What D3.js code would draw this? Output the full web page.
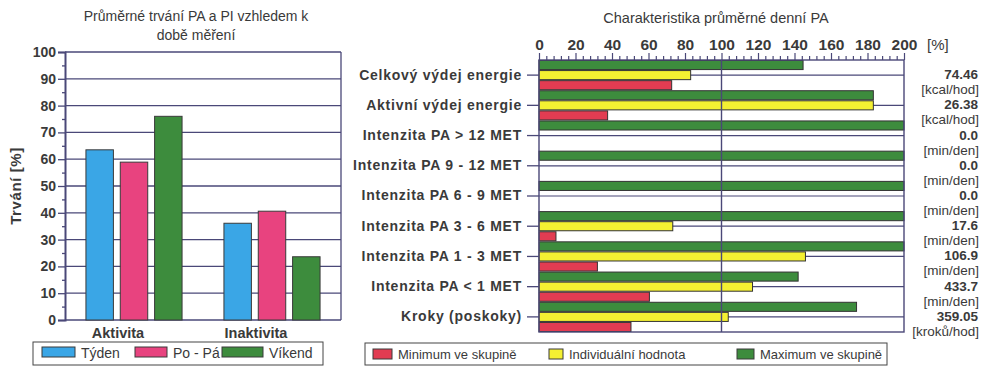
<!DOCTYPE html>
<html>
<head>
<meta charset="utf-8">
<script src="https://cdn.jsdelivr.net/npm/d3@7"></script>
<style>
  body { margin: 0; background: #fff; }
  svg { display: block; font-family: "Liberation Sans", Arial, sans-serif; }
  .tick-label { font-weight: bold; font-size: 14px; fill: #3a3a3a; }
</style>
</head>
<body>
<svg id="chart" width="990" height="367"></svg>
<script>
// left chart data
const leftCategories = ['Aktivita', 'Inaktivita'];
const leftSeries = ['Týden', 'Po - Pá', 'Víkend'];
const tyden = [63.5, 36.1];
const poPa = [58.9, 40.6];
const vikend = [76.0, 23.6];
const leftTicks = [0, 10, 20, 30, 40, 50, 60, 70, 80, 90, 100];

// right chart data
const rightCategories = [
  'Celkový výdej energie', 'Aktivní výdej energie', 'Intenzita PA > 12 MET',
  'Intenzita PA 9 - 12 MET', 'Intenzita PA 6 - 9 MET', 'Intenzita PA 3 - 6 MET',
  'Intenzita PA 1 - 3 MET', 'Intenzita PA < 1 MET', 'Kroky (poskoky)'
];
const rightSeries = ['Maximum ve skupině', 'Individuální hodnota', 'Minimum ve skupině'];
const maxValues = [144.7, 183.2, 200, 200, 200, 200, 200, 142, 174];
const indivValues = [83.1, 183.2, 0, 0, 0, 73.3, 146, 117, 103.7];
const minValues = [72.7, 37.6, 0, 0, 0, 9.3, 32, 60.5, 50.4];
const valueLabels = ['74.46', '26.38', '0.0', '0.0', '0.0', '17.6', '106.9', '433.7', '359.05'];
const unitLabels = ['[kcal/hod]', '[kcal/hod]', '[min/den]', '[min/den]', '[min/den]',
  '[min/den]', '[min/den]', '[min/den]', '[kroků/hod]'];
const rightTicks = [0, 20, 40, 60, 80, 100, 120, 140, 160, 180, 200];

const svg = d3.select('#chart');
const lineColor = '#4a4878';
const textColor = '#3a3a3a';

/* ---------- left chart ---------- */
const leftColors = { 'Týden': '#3aa6e6', 'Po - Pá': '#e8437f', 'Víkend': '#3d8c3d' };
const leftData = leftCategories.map((c, i) => ({
  cat: c, values: [tyden[i], poPa[i], vikend[i]]
}));

const ly = d3.scaleLinear().domain([0, 100]).range([320, 52]);
const lx = d3.scaleBand().domain(leftCategories).range([65, 341]);
const lx1 = d3.scaleBand().domain(leftSeries).range([0, lx.bandwidth()])
  .paddingInner(0.2).paddingOuter(0.61);

const left = svg.append('g');

left.append('text')
  .attr('x', 196).attr('y', 21).attr('text-anchor', 'middle')
  .attr('font-size', 14).attr('fill', textColor)
  .text('Průměrné trvání PA a PI vzhledem k');
left.append('text')
  .attr('x', 196).attr('y', 40).attr('text-anchor', 'middle')
  .attr('font-size', 14).attr('fill', textColor)
  .text('době měření');

// grid
left.selectAll('line.grid').data(leftTicks).enter().append('line')
  .attr('x1', 65).attr('x2', 341)
  .attr('y1', d => ly(d)).attr('y2', d => ly(d))
  .attr('stroke', lineColor).attr('stroke-width', 1.3);
left.append('line').attr('x1', 341).attr('x2', 341).attr('y1', 52).attr('y2', 320)
  .attr('stroke', lineColor).attr('stroke-width', 1.3);

// y axis
const yAxis = d3.axisLeft(ly).tickValues(leftTicks).tickSize(7).tickPadding(2);
const yAxisG = left.append('g').attr('transform', 'translate(65,0)').call(yAxis);
yAxisG.select('.domain').attr('stroke', lineColor).attr('stroke-width', 2);
yAxisG.selectAll('.tick line').attr('stroke', lineColor).attr('stroke-width', 1.3);
yAxisG.selectAll('.tick text').attr('class', 'tick-label').attr('font-family', null).attr('font-size', null);
left.append('g').attr('transform', 'translate(65,0)')
  .call(d3.axisLeft(ly).tickValues(d3.range(5, 100, 10)).tickSize(3).tickFormat(''))
  .call(g => g.select('.domain').remove())
  .selectAll('.tick line').attr('stroke', lineColor).attr('stroke-width', 1.3);

left.append('text')
  .attr('transform', 'translate(21,186) rotate(-90)')
  .attr('text-anchor', 'middle').attr('font-weight', 'bold').attr('font-size', 15)
  .style('letter-spacing', '0.6px')
  .attr('fill', textColor).text('Trvání [%]');

// bars
const groups = left.selectAll('g.grp').data(leftData).enter().append('g')
  .attr('transform', d => `translate(${lx(d.cat)},0)`);
groups.selectAll('rect').data(d => d.values.map((v, i) => ({ key: leftSeries[i], v })))
  .enter().append('rect')
  .attr('x', d => lx1(d.key))
  .attr('width', lx1.bandwidth())
  .attr('y', d => ly(d.v))
  .attr('height', d => ly(0) - ly(d.v))
  .attr('fill', d => leftColors[d.key])
  .attr('stroke', '#3a3a3a').attr('stroke-width', 1);

left.selectAll('text.cat').data(leftCategories).enter().append('text')
  .attr('x', d => lx(d) + lx.bandwidth() / 2 - 16).attr('y', 338)
  .attr('text-anchor', 'middle').attr('font-weight', 'bold').attr('font-size', 14.5)
  .attr('fill', textColor).text(d => d);

// legend
left.append('rect').attr('x', 33).attr('y', 342).attr('width', 290).attr('height', 23)
  .attr('fill', 'none').attr('stroke', '#444').attr('stroke-width', 1);
const leftLegendX = [42, 135, 222];
const leftLegendW = [33, 32, 41];
leftSeries.forEach((s, i) => {
  left.append('rect').attr('x', leftLegendX[i]).attr('y', 347)
    .attr('width', leftLegendW[i]).attr('height', 10)
    .attr('fill', leftColors[s]).attr('stroke', '#3a3a3a').attr('stroke-width', 1);
  left.append('text').attr('x', leftLegendX[i] + leftLegendW[i] + 6).attr('y', 358)
    .attr('font-size', 14).attr('fill', textColor).text(s);
});

/* ---------- right chart ---------- */
const rightColors = {
  'Maximum ve skupině': '#3d8c3d',
  'Individuální hodnota': '#f4f032',
  'Minimum ve skupině': '#e23c52'
};
const rightData = rightCategories.map((c, i) => ({
  cat: c, values: [maxValues[i], indivValues[i], minValues[i]]
}));

const rx = d3.scaleLinear().domain([0, 200]).range([539, 904]);
const ry = d3.scaleBand().domain(rightCategories).range([60, 332]);
const ry1 = d3.scaleBand().domain(rightSeries).range([0, ry.bandwidth()]);

const right = svg.append('g');

right.append('text')
  .attr('x', 716).attr('y', 23).attr('text-anchor', 'middle')
  .attr('font-size', 14.5).attr('fill', textColor)
  .text('Charakteristika průměrné denní PA');

// category grid lines
right.selectAll('line.hgrid').data(rightCategories).enter().append('line')
  .attr('x1', rx(0)).attr('x2', rx(200))
  .attr('y1', d => ry(d) + ry.bandwidth() / 2).attr('y2', d => ry(d) + ry.bandwidth() / 2)
  .attr('stroke', lineColor).attr('stroke-width', 1.2);

// bars
const rgroups = right.selectAll('g.rgrp').data(rightData).enter().append('g')
  .attr('transform', d => `translate(0,${ry(d.cat)})`);
rgroups.selectAll('rect')
  .data(d => d.values.map((v, i) => ({ key: rightSeries[i], v })).filter(e => e.v > 0))
  .enter().append('rect')
  .attr('x', rx(0))
  .attr('y', d => ry1(d.key) + 0.5)
  .attr('width', d => rx(d.v) - rx(0))
  .attr('height', ry1.bandwidth() - 1)
  .attr('fill', d => rightColors[d.key])
  .attr('stroke', '#333').attr('stroke-width', 1);

// frame and 100 % line
right.append('rect').attr('x', rx(0)).attr('y', 60).attr('width', rx(200) - rx(0)).attr('height', 272)
  .attr('fill', 'none').attr('stroke', lineColor).attr('stroke-width', 1.4);
right.append('line').attr('x1', rx(100)).attr('x2', rx(100)).attr('y1', 60).attr('y2', 332)
  .attr('stroke', lineColor).attr('stroke-width', 1.4);

// top axis
const xAxisG = right.append('g').attr('transform', 'translate(0,60)')
  .call(d3.axisTop(rx).tickValues(rightTicks).tickSize(7).tickPadding(3));
xAxisG.select('.domain').remove();
xAxisG.selectAll('.tick line').attr('stroke', lineColor).attr('stroke-width', 1.2);
xAxisG.selectAll('.tick text').attr('class', 'tick-label').attr('font-family', null)
  .attr('font-size', null).style('font-size', '15.5px');
right.append('g').attr('transform', 'translate(0,60)')
  .call(d3.axisTop(rx).tickValues(d3.range(4, 200, 4).filter(v => v % 20 !== 0)).tickSize(4).tickFormat(''))
  .call(g => g.select('.domain').remove())
  .selectAll('.tick line').attr('stroke', lineColor).attr('stroke-width', 1.2);

right.append('text').attr('x', 927).attr('y', 50)
  .attr('font-size', 15).attr('fill', textColor).text('[%]');

// category axis
const catAxisG = right.append('g').attr('transform', `translate(${rx(0)},0)`)
  .call(d3.axisLeft(ry).tickSize(12).tickPadding(5));
catAxisG.select('.domain').remove();
catAxisG.selectAll('.tick line').attr('stroke', lineColor).attr('stroke-width', 1.3);
catAxisG.selectAll('.tick text').attr('class', 'tick-label').attr('font-family', null)
  .attr('font-size', null).style('letter-spacing', '0.75px');

// value labels
right.selectAll('text.val').data(valueLabels).enter().append('text')
  .attr('x', 978).attr('y', (d, i) => ry(rightCategories[i]) + ry.bandwidth() / 2 + 4)
  .attr('text-anchor', 'end').attr('font-weight', 'bold').attr('font-size', 13.5)
  .attr('fill', textColor).text(d => d);
right.selectAll('text.unit').data(unitLabels).enter().append('text')
  .attr('x', 979).attr('y', (d, i) => ry(rightCategories[i]) + ry.bandwidth() / 2 + 19)
  .attr('text-anchor', 'end').attr('font-size', 13.5)
  .attr('fill', textColor).text(d => d);

// legend
right.append('rect').attr('x', 365).attr('y', 343).attr('width', 522).attr('height', 22)
  .attr('fill', 'none').attr('stroke', '#444').attr('stroke-width', 1);
const rightLegend = ['Minimum ve skupině', 'Individuální hodnota', 'Maximum ve skupině'];
const rightLegendX = [373, 549, 737];
const rightLegendW = [19, 14, 17];
rightLegend.forEach((s, i) => {
  right.append('rect').attr('x', rightLegendX[i]).attr('y', 349)
    .attr('width', rightLegendW[i]).attr('height', 10)
    .attr('fill', rightColors[s]).attr('stroke', '#3a3a3a').attr('stroke-width', 1);
  right.append('text').attr('x', rightLegendX[i] + rightLegendW[i] + 6).attr('y', 359)
    .attr('font-size', 13).attr('fill', textColor).text(s);
});
</script>
</body>
</html>
